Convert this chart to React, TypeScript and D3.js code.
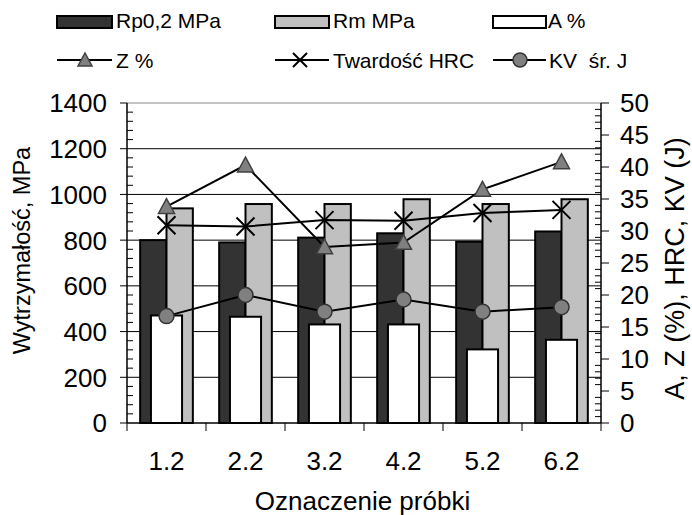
import React from "react";
import * as d3 from "d3";

const categories = ["1.2", "2.2", "3.2", "4.2", "5.2", "6.2"];
const rpValues = [800, 790, 811, 830, 793, 838];
const rmValues = [939, 958, 958, 979, 958, 979];
const aValues = [16.8, 16.6, 15.4, 15.4, 11.5, 13.0];
const zValues = [33.8, 40.3, 27.5, 28.2, 36.5, 40.8];
const hrcValues = [30.9, 30.7, 31.7, 31.6, 32.8, 33.3];
const kvValues = [16.7, 20.0, 17.4, 19.3, 17.4, 18.1];
const leftTicks = [0, 200, 400, 600, 800, 1000, 1200, 1400];
const rightTicks = [0, 5, 10, 15, 20, 25, 30, 35, 40, 45, 50];

const W = 692;
const H = 515;
const FONT = "'Liberation Sans', Arial, sans-serif";

export default function App() {
  const left = 127, right = 601, top = 103, bottom = 423;
  const x = d3.scaleBand<string>().domain(categories).range([left, right]);
  const yL = d3.scaleLinear().domain([0, 1400]).range([bottom, top]);
  const yR = d3.scaleLinear().domain([0, 50]).range([bottom, top]);
  const bw = x.bandwidth();
  const groupW = bw / 1.5;
  const inner = d3.scaleBand<string>().domain(["rp", "rm"]).range([0, groupW]);
  const aW = bw / 2.54;
  const cx = (c: string) => (x(c) as number) + bw / 2;

  const line = (vals: number[]) =>
    d3.line<number>()
      .x((_, i) => cx(categories[i]))
      .y((v) => yR(v))(vals) as string;

  const tri = (px: number, py: number, s = 8) =>
    `M${px},${py - s}L${px + s},${py + s * 0.85}L${px - s},${py + s * 0.85}Z`;
  const cross = (px: number, py: number, s = 8) =>
    `M${px - s},${py - s}L${px + s},${py + s}M${px - s},${py + s}L${px + s},${py - s}`;

  const leftMinor = d3.range(0, 1401, 40).filter((v) => v % 200 !== 0);
  const rightMinor = d3.range(0, 51, 1).filter((v) => v % 5 !== 0);

  return (
    <svg width={W} height={H} style={{ position: "absolute", left: 0, top: 0, background: "#fff" }} fontFamily={FONT}>
      <rect x={0} y={0} width={W} height={H} fill="#fff" />
      {/* gridlines */}
      {leftTicks.filter((t) => t > 0).map((t) => (
        <line key={"g" + t} x1={left} x2={right} y1={yL(t)} y2={yL(t)}
          stroke={t === 1400 ? "#888" : "#000"} strokeWidth={1} />
      ))}
      {/* primary bars */}
      {categories.map((c, i) => (
        <g key={"b" + c}>
          <rect x={(x(c) as number) + (bw - groupW) / 2 + (inner("rp") as number)} y={yL(rpValues[i])}
            width={inner.bandwidth()} height={bottom - yL(rpValues[i])} fill="#333333" stroke="#000" strokeWidth={2} />
          <rect x={(x(c) as number) + (bw - groupW) / 2 + (inner("rm") as number)} y={yL(rmValues[i])}
            width={inner.bandwidth()} height={bottom - yL(rmValues[i])} fill="#C0C0C0" stroke="#000" strokeWidth={2} />
        </g>
      ))}
      {/* secondary bars */}
      {categories.map((c, i) => (
        <rect key={"a" + c} x={cx(c) - aW / 2} y={yR(aValues[i])} width={aW} height={bottom - yR(aValues[i])}
          fill="#fff" stroke="#000" strokeWidth={2} />
      ))}
      {/* axes */}
      <line x1={left} x2={right} y1={bottom} y2={bottom} stroke="#000" strokeWidth={1.5} />
      <line x1={left} x2={left} y1={top} y2={bottom} stroke="#000" strokeWidth={1.5} />
      <line x1={right} x2={right} y1={top} y2={bottom} stroke="#000" strokeWidth={1.5} />
      {leftTicks.map((t) => (
        <g key={"lt" + t}>
          <line x1={left - 7} x2={left} y1={yL(t)} y2={yL(t)} stroke="#000" />
          <text x={107} y={yL(t)} dy="0.36em" textAnchor="end" fontSize={26}>{t}</text>
        </g>
      ))}
      {leftMinor.map((t) => (
        <line key={"lm" + t} x1={left} x2={left + 6} y1={yL(t)} y2={yL(t)} stroke="#000" />
      ))}
      {rightTicks.map((t) => (
        <g key={"rt" + t}>
          <line x1={right} x2={right + 8} y1={yR(t)} y2={yR(t)} stroke="#000" />
          <text x={620} y={yR(t)} dy="0.36em" textAnchor="start" fontSize={26}>{t}</text>
        </g>
      ))}
      {rightMinor.map((t) => (
        <line key={"rm" + t} x1={right - 6} x2={right} y1={yR(t)} y2={yR(t)} stroke="#000" />
      ))}
      {[...categories.map((c) => x(c) as number), right].map((v, i) => (
        <line key={"xt" + i} x1={v} x2={v} y1={bottom} y2={bottom + 8} stroke="#000" />
      ))}
      {categories.map((c) => (
        <text key={"xl" + c} x={cx(c)} y={470} textAnchor="middle" fontSize={26}>{c}</text>
      ))}
      {/* lines */}
      <path d={line(zValues)} fill="none" stroke="#000" strokeWidth={2} />
      <path d={line(hrcValues)} fill="none" stroke="#000" strokeWidth={2} />
      <path d={line(kvValues)} fill="none" stroke="#000" strokeWidth={2} />
      {zValues.map((v, i) => (
        <path key={"zm" + i} d={tri(cx(categories[i]), yR(v))} fill="#808080" stroke="#404040" strokeWidth={1.5} />
      ))}
      {hrcValues.map((v, i) => (
        <path key={"hm" + i} d={cross(cx(categories[i]), yR(v), 9)} fill="none" stroke="#000" strokeWidth={2} />
      ))}
      {kvValues.map((v, i) => (
        <circle key={"km" + i} cx={cx(categories[i])} cy={yR(v)} r={7.5} fill="#808080" stroke="#333" strokeWidth={1.5} />
      ))}
      {/* titles */}
      <text transform={`translate(30,250.5) rotate(-90)`} textAnchor="middle" fontSize={23.5}>Wytrzymałość, MPa</text>
      <text transform={`translate(684,268.5) rotate(-90)`} textAnchor="middle" fontSize={27}>A, Z (%),  HRC, KV (J)</text>
      <text x={362.5} y={510} textAnchor="middle" fontSize={26}>Oznaczenie próbki</text>
      {/* legend */}
      <g fontSize={21}>
        <rect x={57} y={16} width={55} height={12} fill="#333333" stroke="#000" strokeWidth={2} />
        <text x={116} y={28}>Rp0,2 MPa</text>
        <rect x={275} y={16} width={54} height={12} fill="#C0C0C0" stroke="#000" strokeWidth={2} />
        <text x={333} y={28}>Rm MPa</text>
        <rect x={493} y={16} width={53} height={12} fill="#fff" stroke="#000" strokeWidth={2} />
        <text x={548} y={28}>A %</text>

        <line x1={57} x2={112} y1={60} y2={60} stroke="#000" strokeWidth={2} />
        <path d={tri(85, 60, 7)} fill="#808080" stroke="#404040" strokeWidth={1.5} />
        <text x={116} y={68}>Z %</text>
        <line x1={275} x2={329} y1={60} y2={60} stroke="#000" strokeWidth={2} />
        <path d={cross(300, 60, 7)} fill="none" stroke="#000" strokeWidth={2} />
        <text x={333} y={68}>Twardość HRC</text>
        <line x1={493} x2={546} y1={60} y2={60} stroke="#000" strokeWidth={2} />
        <circle cx={520} cy={60} r={7} fill="#808080" stroke="#333" strokeWidth={1.5} />
        <text x={549} y={68}>KV{"\u00a0\u00a0"}śr. J</text>
      </g>
    </svg>
  );
}
